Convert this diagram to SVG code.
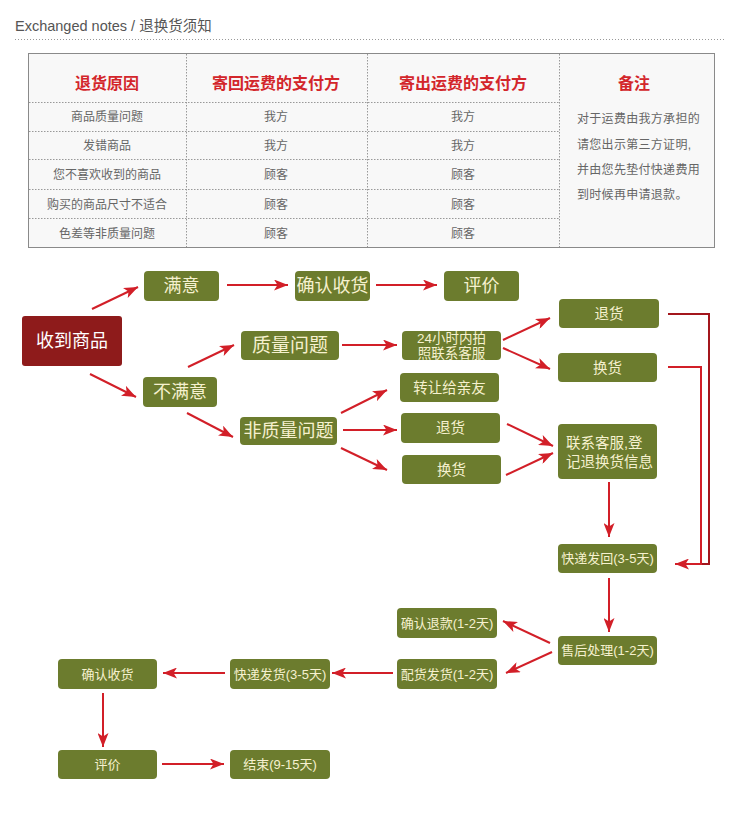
<svg xmlns="http://www.w3.org/2000/svg" width="750" height="816" viewBox="0 0 750 816">
<defs>
<style>
text{font-family:"Liberation Sans","Noto Sans CJK SC",sans-serif;}
.title{font-size:14.5px;fill:#555;}
.th{font-size:16px;font-weight:bold;fill:#d3262b;text-anchor:middle;}
.td{font-size:12px;fill:#666;text-anchor:middle;}
.note{font-size:12px;fill:#666;letter-spacing:0.3px;}
.g{fill:#6c7c2e;}
.r{fill:#8e1b1b;}
.bt{fill:#f6f1cf;text-anchor:middle;dominant-baseline:central;}
.b18{font-size:18px;}
.b14{font-size:14.5px;}
.b13{font-size:13px;}
.ln{stroke:#d21f28;stroke-width:2;fill:none;}
.arr{marker-end:url(#ah);}
.grid{stroke:#999;stroke-width:1;stroke-dasharray:1.5 1.5;}
</style>
<marker id="ah" markerUnits="userSpaceOnUse" markerWidth="15" markerHeight="11" refX="14" refY="5.5" orient="auto" viewBox="0 0 15 11">
<path d="M0,0 L14,5.5 L0,11 L3.5,5.5 Z" fill="#d21f28"/>
</marker>
</defs>
<rect width="750" height="816" fill="#fff"/>
<g id="header">
<text class="title" x="15" y="31">Exchanged notes / 退换货须知</text>
<line x1="15" y1="39.5" x2="725" y2="39.5" stroke="#999" stroke-width="1" stroke-dasharray="1 2"/>
</g>
<g id="table">
<rect x="28.5" y="53.5" width="686" height="194" fill="#f8f8f8" stroke="#8a8a8a" stroke-width="1"/>
<line class="grid" x1="186.5" y1="54" x2="186.5" y2="247"/>
<line class="grid" x1="367.5" y1="54" x2="367.5" y2="247"/>
<line class="grid" x1="559.5" y1="54" x2="559.5" y2="247"/>
<line class="grid" x1="29" y1="102.5" x2="559" y2="102.5"/>
<line class="grid" x1="29" y1="131.5" x2="559" y2="131.5"/>
<line class="grid" x1="29" y1="159.5" x2="559" y2="159.5"/>
<line class="grid" x1="29" y1="189.5" x2="559" y2="189.5"/>
<line class="grid" x1="29" y1="218.5" x2="559" y2="218.5"/>
<text class="th" x="107" y="89">退货原因</text>
<text class="th" x="276" y="89">寄回运费的支付方</text>
<text class="th" x="463" y="89">寄出运费的支付方</text>
<text class="th" x="634" y="89">备注</text>
<text class="td" x="107" y="120.5">商品质量问题</text>
<text class="td" x="276" y="120.5">我方</text>
<text class="td" x="463" y="120.5">我方</text>
<text class="td" x="107" y="149.5">发错商品</text>
<text class="td" x="276" y="149.5">我方</text>
<text class="td" x="463" y="149.5">我方</text>
<text class="td" x="107" y="178.5">您不喜欢收到的商品</text>
<text class="td" x="276" y="178.5">顾客</text>
<text class="td" x="463" y="178.5">顾客</text>
<text class="td" x="107" y="208.5">购买的商品尺寸不适合</text>
<text class="td" x="276" y="208.5">顾客</text>
<text class="td" x="463" y="208.5">顾客</text>
<text class="td" x="107" y="237.5">色差等非质量问题</text>
<text class="td" x="276" y="237.5">顾客</text>
<text class="td" x="463" y="237.5">顾客</text>
<text class="note" x="577" y="122.5">对于运费由我方承担的</text>
<text class="note" x="577" y="148.5">请您出示第三方证明,</text>
<text class="note" x="577" y="173.5">并由您先垫付快递费用</text>
<text class="note" x="577" y="198.5">到时候再申请退款。</text>
</g>
<g id="connectors">
<line class="ln arr" x1="92" y1="309" x2="138" y2="287"/>
<line class="ln arr" x1="227" y1="285" x2="288" y2="285"/>
<line class="ln arr" x1="376" y1="285" x2="437" y2="285"/>
<line class="ln arr" x1="90" y1="374" x2="136" y2="397"/>
<line class="ln arr" x1="188" y1="367" x2="234" y2="345"/>
<line class="ln arr" x1="187" y1="413" x2="233" y2="437"/>
<line class="ln arr" x1="342" y1="345" x2="397" y2="345"/>
<line class="ln arr" x1="503" y1="340" x2="550" y2="318"/>
<line class="ln arr" x1="503" y1="348" x2="550" y2="369"/>
<line class="ln arr" x1="341" y1="413" x2="387" y2="390"/>
<line class="ln arr" x1="343" y1="430" x2="397" y2="430"/>
<line class="ln arr" x1="341" y1="448" x2="387" y2="470"/>
<line class="ln arr" x1="507" y1="424" x2="553" y2="446"/>
<line class="ln arr" x1="506" y1="475" x2="553" y2="453"/>
<line class="ln arr" x1="609" y1="482" x2="609" y2="537"/>
<polyline points="668,314 709,314 709,564 690,564" fill="none" stroke="#a3161c" stroke-width="2"/>
<polyline class="ln arr" points="668,367 701,367 701,564 675,564"/>
<line class="ln arr" x1="609" y1="578" x2="609" y2="632"/>
<line class="ln arr" x1="550" y1="643" x2="503" y2="621"/>
<line class="ln arr" x1="552" y1="652" x2="506" y2="673"/>
<line class="ln arr" x1="393" y1="673" x2="332" y2="673"/>
<line class="ln arr" x1="225" y1="673" x2="163" y2="673"/>
<line class="ln arr" x1="103" y1="693" x2="103" y2="747"/>
<line class="ln arr" x1="162" y1="764" x2="224" y2="764"/>
</g>
<g id="n-receive"><rect class="r" x="22" y="316" width="100" height="50" rx="3"/><text class="bt b18" x="72" y="341" style="fill:#fff">收到商品</text></g>
<g id="n-satisfied"><rect class="g" x="144" y="271" width="75" height="30" rx="4"/><text class="bt b18" x="181.5" y="286">满意</text></g>
<g id="n-confirm1"><rect class="g" x="295" y="271" width="75" height="30" rx="4"/><text class="bt b18" x="332.5" y="286">确认收货</text></g>
<g id="n-review1"><rect class="g" x="444" y="271" width="75" height="30" rx="4"/><text class="bt b18" x="481.5" y="286">评价</text></g>
<g id="n-unsatisfied"><rect class="g" x="143" y="377" width="74" height="30" rx="4"/><text class="bt b18" x="180" y="392">不满意</text></g>
<g id="n-quality"><rect class="g" x="241" y="331" width="98" height="29" rx="4"/><text class="bt" x="290" y="345.5" style="font-size:19px">质量问题</text></g>
<g id="n-nonquality"><rect class="g" x="240" y="417" width="97" height="28" rx="4"/><text class="bt b18" x="288.5" y="431">非质量问题</text></g>
<g id="n-24h"><rect class="g" x="402" y="331" width="99" height="29" rx="4"/><text class="bt" x="451.5" y="338" style="font-size:13.5px">24小时内拍</text><text class="bt" x="451.5" y="353" style="font-size:13.5px">照联系客服</text></g>
<g id="n-return1"><rect class="g" x="559" y="299" width="100" height="29" rx="4"/><text class="bt b14" x="609" y="313.5">退货</text></g>
<g id="n-exchange1"><rect class="g" x="558" y="353" width="99" height="29" rx="4"/><text class="bt b14" x="607.5" y="367.5">换货</text></g>
<g id="n-gift"><rect class="g" x="400" y="373" width="99" height="29" rx="4"/><text class="bt b14" x="449.5" y="387.5">转让给亲友</text></g>
<g id="n-return2"><rect class="g" x="401" y="413" width="99" height="30" rx="4"/><text class="bt b14" x="450.5" y="428">退货</text></g>
<g id="n-exchange2"><rect class="g" x="402" y="455" width="99" height="29" rx="4"/><text class="bt b14" x="451.5" y="469.5">换货</text></g>
<g id="n-contact"><rect class="g" x="558" y="424" width="99" height="55" rx="4"/><text class="bt b14" x="566" y="443" style="text-anchor:start">联系客服,登</text><text class="bt b14" x="566" y="462" style="text-anchor:start">记退换货信息</text></g>
<g id="n-sendback"><rect class="g" x="558" y="544" width="99" height="29" rx="4"/><text class="bt b13" x="607.5" y="558.5">快递发回(3-5天)</text></g>
<g id="n-aftersale"><rect class="g" x="558" y="636" width="99" height="29" rx="4"/><text class="bt b13" x="607.5" y="650.5">售后处理(1-2天)</text></g>
<g id="n-refund"><rect class="g" x="397" y="608" width="100" height="30" rx="4"/><text class="bt b13" x="447" y="623">确认退款(1-2天)</text></g>
<g id="n-ship"><rect class="g" x="397" y="659" width="100" height="30" rx="4"/><text class="bt b13" x="447" y="674">配货发货(1-2天)</text></g>
<g id="n-express"><rect class="g" x="230" y="659" width="100" height="30" rx="4"/><text class="bt b13" x="280" y="674">快递发货(3-5天)</text></g>
<g id="n-confirm2"><rect class="g" x="58" y="659" width="99" height="30" rx="4"/><text class="bt b13" x="107.5" y="674">确认收货</text></g>
<g id="n-review2"><rect class="g" x="58" y="750" width="99" height="29" rx="4"/><text class="bt b13" x="107.5" y="764.5">评价</text></g>
<g id="n-end"><rect class="g" x="230" y="750" width="100" height="29" rx="4"/><text class="bt b13" x="280" y="764.5">结束(9-15天)</text></g>
</svg>
